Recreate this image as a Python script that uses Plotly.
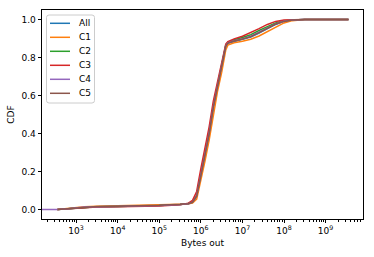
import plotly.graph_objects as go

# Data
bytes_out = [32, 355, 631, 1000, 1585, 3162, 10000, 31623, 100000, 316228,
             501187, 630957, 794328, 1000000, 1258925, 1584893, 1995262,
             2511886, 3162278, 3981072, 4466836, 6309573, 10000000,
             15848932, 25118864, 39810717, 63095734, 100000000, 158489319,
             316227766, 1000000000, 3548133892]

cdf_all = [None, 0.000, 0.004, 0.009, 0.013, 0.015, 0.016, 0.018, 0.021, 0.026, 0.030, 0.038, 0.070, 0.180, 0.290, 0.400, 0.540, 0.650, 0.750, 0.860, 0.875, 0.885, 0.895, 0.908, 0.928, 0.952, 0.974, 0.990, 0.997, 1.0, 1.0, 1.0]
cdf_c1 = [None, 0.000, 0.005, 0.010, 0.015, 0.017, 0.019, 0.021, 0.024, 0.028, 0.030, 0.034, 0.055, 0.150, 0.255, 0.365, 0.500, 0.620, 0.720, 0.840, 0.865, 0.878, 0.886, 0.896, 0.913, 0.936, 0.962, 0.982, 0.994, 1.0, 1.0, 1.0]
cdf_c2 = [None, 0.000, 0.004, 0.009, 0.013, 0.015, 0.016, 0.018, 0.021, 0.026, 0.031, 0.040, 0.075, 0.185, 0.295, 0.405, 0.545, 0.655, 0.755, 0.865, 0.880, 0.893, 0.905, 0.920, 0.942, 0.964, 0.982, 0.993, 0.998, 1.0, 1.0, 1.0]
cdf_c3 = [None, 0.000, 0.003, 0.008, 0.011, 0.013, 0.014, 0.016, 0.019, 0.025, 0.033, 0.048, 0.095, 0.215, 0.325, 0.435, 0.570, 0.675, 0.775, 0.870, 0.883, 0.898, 0.912, 0.930, 0.952, 0.974, 0.990, 0.997, 0.999, 1.0, 1.0, 1.0]
cdf_c4 = [0.0, 0.000, 0.004, 0.009, 0.013, 0.015, 0.016, 0.018, 0.021, 0.026, 0.030, 0.039, 0.072, 0.182, 0.292, 0.402, 0.542, 0.652, 0.752, 0.862, 0.877, 0.888, 0.898, 0.912, 0.933, 0.957, 0.977, 0.991, 0.998, 1.0, 1.0, 1.0]
cdf_c5 = [None, 0.000, 0.004, 0.009, 0.013, 0.016, 0.017, 0.019, 0.022, 0.027, 0.030, 0.038, 0.070, 0.178, 0.288, 0.398, 0.538, 0.648, 0.748, 0.860, 0.876, 0.887, 0.897, 0.910, 0.931, 0.955, 0.976, 0.990, 0.997, 1.0, 1.0, 1.0]

series_names = ["All", "C1", "C2", "C3", "C4", "C5"]
series_values = [cdf_all, cdf_c1, cdf_c2, cdf_c3, cdf_c4, cdf_c5]
colors = ["#1f77b4", "#ff7f0e", "#2ca02c", "#d62728", "#9467bd", "#8c564b"]

major_ticks = [1e3, 1e4, 1e5, 1e6, 1e7, 1e8, 1e9]
major_text = ["10<sup>%d</sup>" % e for e in range(3, 10)]
minor_ticks = [m * 10 ** e for e in range(2, 10) for m in range(2, 10)]

y_ticks = [0.0, 0.2, 0.4, 0.6, 0.8, 1.0]

W, H = 374, 257
ML, MR, MT, MB = 42, 11, 10, 38
PW, PH = W - ML - MR, H - MT - MB


def px(x):
    return (x - ML) / PW


def py(y):
    return (H - MB - y) / PH


fig = go.Figure()
for name, vals, c in zip(series_names, series_values, colors):
    fig.add_trace(go.Scatter(
        x=bytes_out, y=vals, name=name, mode="lines",
        line=dict(color=c, width=1.5),
        connectgaps=False, showlegend=False,
    ))

# Compact legend (matplotlib-style) drawn in paper coordinates
bx0, bx1, by0, by1, r = 46.5, 94.5, 15, 103, 2.5
path = ("M {a},{b} L {c},{b} Q {d},{b} {d},{e} L {d},{f} Q {d},{g} {c},{g} "
        "L {a},{g} Q {h},{g} {h},{f} L {h},{e} Q {h},{b} {a},{b} Z").format(
    a=px(bx0 + r), b=py(by0), c=px(bx1 - r), d=px(bx1), e=py(by0 + r),
    f=py(by1 - r), g=py(by1), h=px(bx0))
shapes = [dict(type="path", xref="paper", yref="paper", path=path,
               fillcolor="rgba(255,255,255,0.8)",
               line=dict(color="#cccccc", width=1), layer="above")]
annotations = []
for i, (name, c) in enumerate(zip(series_names, colors)):
    yy = 23.3 + 14 * i
    shapes.append(dict(type="line", xref="paper", yref="paper",
                       x0=px(50), x1=px(70), y0=py(yy), y1=py(yy),
                       line=dict(color=c, width=1.5), layer="above"))
    annotations.append(dict(text=name, xref="paper", yref="paper",
                            x=px(77), y=py(yy), xanchor="left", yanchor="middle",
                            showarrow=False,
                            font=dict(family="DejaVu Sans", size=9, color="black")))

font = dict(family="DejaVu Sans", size=9, color="black")
fig.update_layout(
    width=W, height=H,
    margin=dict(l=ML, r=MR, t=MT, b=MB),
    paper_bgcolor="white", plot_bgcolor="white",
    font=font,
    showlegend=False,
    shapes=shapes, annotations=annotations,
)
fig.update_xaxes(
    type="log", range=[2.18, 9.9], automargin=False,
    tickvals=major_ticks, ticktext=major_text,
    ticks="outside", ticklen=3.5, tickwidth=0.8, tickcolor="black",
    showline=True, linecolor="black", linewidth=0.8, mirror=True,
    showgrid=False, zeroline=False,
    minor=dict(tickvals=minor_ticks, ticks="outside", ticklen=2, tickwidth=0.6,
               tickcolor="black", showgrid=False),
    title=dict(text="Bytes out", font=font, standoff=4),
)
fig.update_yaxes(
    range=[-0.05, 1.05], automargin=False,
    tickvals=y_ticks, tickformat=".1f",
    ticks="outside", ticklen=3.5, tickwidth=0.8, tickcolor="black",
    showline=True, linecolor="black", linewidth=0.8, mirror=True,
    showgrid=False, zeroline=False,
    title=dict(text="CDF", font=font, standoff=5),
)

fig.write_html("out.html", config={"displayModeBar": False},
               post_script="document.body.style.margin='0px';")
